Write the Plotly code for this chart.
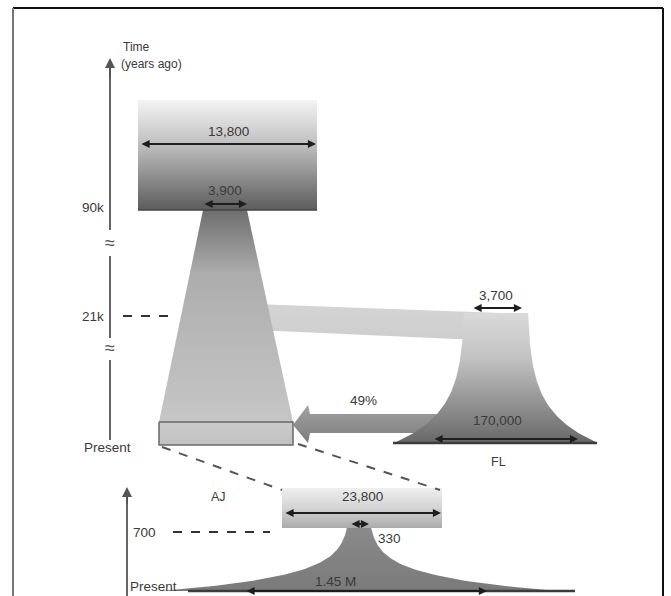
import numpy as np
import plotly.graph_objects as go

# ---------------- data (labels) ----------------
time_labels_upper = ["90k", "21k", "Present"]
time_labels_lower = ["700", "Present"]
axis_title = ["Time", "(years ago)"]
ancestral_sizes = ["13,800", "3,900"]
fl_sizes = ["3,700", "170,000"]
aj_sizes = ["23,800", "330", "1.45 M"]
admixture = ["49%"]
population_names = ["AJ", "FL"]

# ---------------- layout (pixel space) ----------------
W, H = 671, 596
FONT = "Liberation Sans, Arial, sans-serif"
TXT = "#3a3a3a"

fig = go.Figure()


def poly(xs, ys, scale, start, stop, line_color=None, line_width=0):
    fig.add_trace(go.Scatter(
        x=list(xs) + [xs[0]], y=list(ys) + [ys[0]], mode="lines", fill="toself",
        fillgradient=dict(type="vertical", colorscale=scale, start=start, stop=stop),
        line=dict(color=line_color or "rgba(0,0,0,0)", width=line_width),
        hoverinfo="skip", showlegend=False))


# migration band to FL (drawn under the AJ trunk)
poly([255, 500, 500, 255], [304, 313, 341, 330],
     [[0, "#d4d4d4"], [1, "#cecece"]], 304, 341)

# 49% admixture arrow
poly([293, 308, 310, 445, 445, 310, 308],
     [425, 405, 414, 414, 433, 433, 443],
     [[0, "#a2a2a2"], [1, "#7c7c7c"]], 405, 443)

# ancestral box
poly([138, 317, 317, 138], [100, 100, 210, 210],
     [[0, "#f4f4f4"], [0.4, "#c0c0c0"], [1, "#5c5c5c"]], 100, 210)

# AJ trunk (trapezoid)
poly([203, 247, 293, 159], [210, 210, 422, 422],
     [[0, "#6e6e6e"], [0.3, "#adadad"], [1, "#c6c6c6"]], 210, 422)

# FL exponential growth shape
yy = np.linspace(313, 443, 80)
hw = 31 + 71 * np.exp(0.032 * (yy - 443))
xs = list(496 + hw) + list((496 - hw)[::-1])
ys = list(yy) + list(yy[::-1])
poly(xs, ys, [[0, "#dadada"], [0.35, "#c2c2c2"], [1, "#686868"]], 313, 443)

# Present box
poly([159, 293, 293, 159], [422, 422, 445, 445],
     [[0, "#cacaca"], [1, "#c2c2c2"]], 422, 445, line_color="#6a6a6a", line_width=1.5)

# lower panel: AJ box
poly([282, 442, 442, 282], [488, 488, 528, 528],
     [[0, "#efefef"], [0.5, "#d4d4d4"], [1, "#ababab"]], 488, 528)

# lower panel: AJ expansion
yy2 = np.linspace(528, 591, 80)
hw2 = 9 + 190 * np.exp(0.065 * (yy2 - 591))
xs2 = list(359 + hw2) + list((359 - hw2)[::-1])
ys2 = list(yy2) + list(yy2[::-1])
poly(xs2, ys2, [[0, "#8a8a8a"], [1, "#7a7a7a"]], 528, 591)

fig.update_layout(
    width=W, height=H, margin=dict(l=0, r=0, t=0, b=0),
    paper_bgcolor="white", plot_bgcolor="white",
    xaxis=dict(range=[0, W], visible=False, fixedrange=True),
    yaxis=dict(range=[H, 0], visible=False, fixedrange=True),
    showlegend=False,
)

shapes = []


def line(x0, y0, x1, y1, color="#222", width=1.5, dash="solid"):
    shapes.append(dict(type="line", x0=x0, y0=y0, x1=x1, y1=y1, xref="x", yref="y",
                       line=dict(color=color, width=width, dash=dash)))


# frame
line(13, 8, 663, 8, "#111", 2)
line(13, 8, 13, 596, "#777", 2)
line(663, 8, 663, 596, "#111", 2)

# upper time axis segments
line(110, 66, 110, 230, "#666", 2)
line(110, 256, 110, 338, "#666", 2)
line(110, 360, 110, 440, "#666", 2)
# lower time axis
line(127, 495, 127, 596, "#666", 2)

# dashed guides
line(123, 316, 176, 316, "#333", 2, "dash")
line(173, 532, 270, 532, "#333", 2, "dash")
line(162, 447, 282, 490, "#555", 2, "dash")
line(298, 444, 440, 490, "#555", 2, "dash")

# base lines
line(393, 443, 597, 443, "#3c3c3c", 2.5)
line(188, 591, 575, 591, "#3c3c3c", 2.5)
line(138, 210, 317, 210, "#444", 1.5)

fig.update_layout(shapes=shapes)

ann = []


def text(x, y, s, size=13.5, anchor="center", color=TXT):
    ann.append(dict(x=x, y=y, xref="x", yref="y", text=s, showarrow=False,
                    xanchor=anchor, yanchor="middle",
                    font=dict(family=FONT, size=size, color=color)))


def dim(x0, x1, y, color="#1e1e1e"):
    ann.append(dict(x=x1, y=y, ax=x0, ay=y, xref="x", yref="y", axref="x", ayref="y",
                    text="", showarrow=True, arrowhead=2, arrowside="end+start",
                    arrowsize=0.9, arrowwidth=1.8, arrowcolor=color, standoff=0,
                    startstandoff=0))


def up_arrow(x, y0, y1):
    ann.append(dict(x=x, y=y1, ax=x, ay=y0, xref="x", yref="y", axref="x", ayref="y",
                    text="", showarrow=True, arrowhead=2, arrowsize=1,
                    arrowwidth=2, arrowcolor="#555", standoff=0))


up_arrow(110, 80, 58)
up_arrow(127, 505, 487)

# axis labels
text(121, 47, axis_title[0], 12, "left")
text(119, 64, axis_title[1], 12, "left")
text(106, 207, time_labels_upper[0], 13.5, "right")
text(106, 316, time_labels_upper[1], 13.5, "right")
text(82, 447, time_labels_upper[2], 13.5, "left")
text(131, 532, time_labels_lower[0], 13.5, "left")
text(128, 586, time_labels_lower[1], 13.5, "left")

# axis breaks
text(110, 243, "≈", 18, "center", "#555")
text(110, 348, "≈", 18, "center", "#555")

# dimension arrows and size labels
dim(140, 316, 144)
text(228, 131, ancestral_sizes[0])
dim(203, 247, 204)
text(225, 190, ancestral_sizes[1])
dim(472, 522, 308)
text(496, 295, fl_sizes[0])
dim(433, 578, 439)
text(497, 420, fl_sizes[1])
dim(284, 441, 513)
text(362, 496, aj_sizes[0])
dim(350, 369, 524)
text(389, 538, aj_sizes[1])
dim(245, 487, 591)
text(335, 581, aj_sizes[2])

text(363, 400, admixture[0])
text(218, 497, population_names[0], 12.5)
text(498, 462, population_names[1], 12.5)

fig.update_layout(annotations=ann)

fig.write_html("out.html")
